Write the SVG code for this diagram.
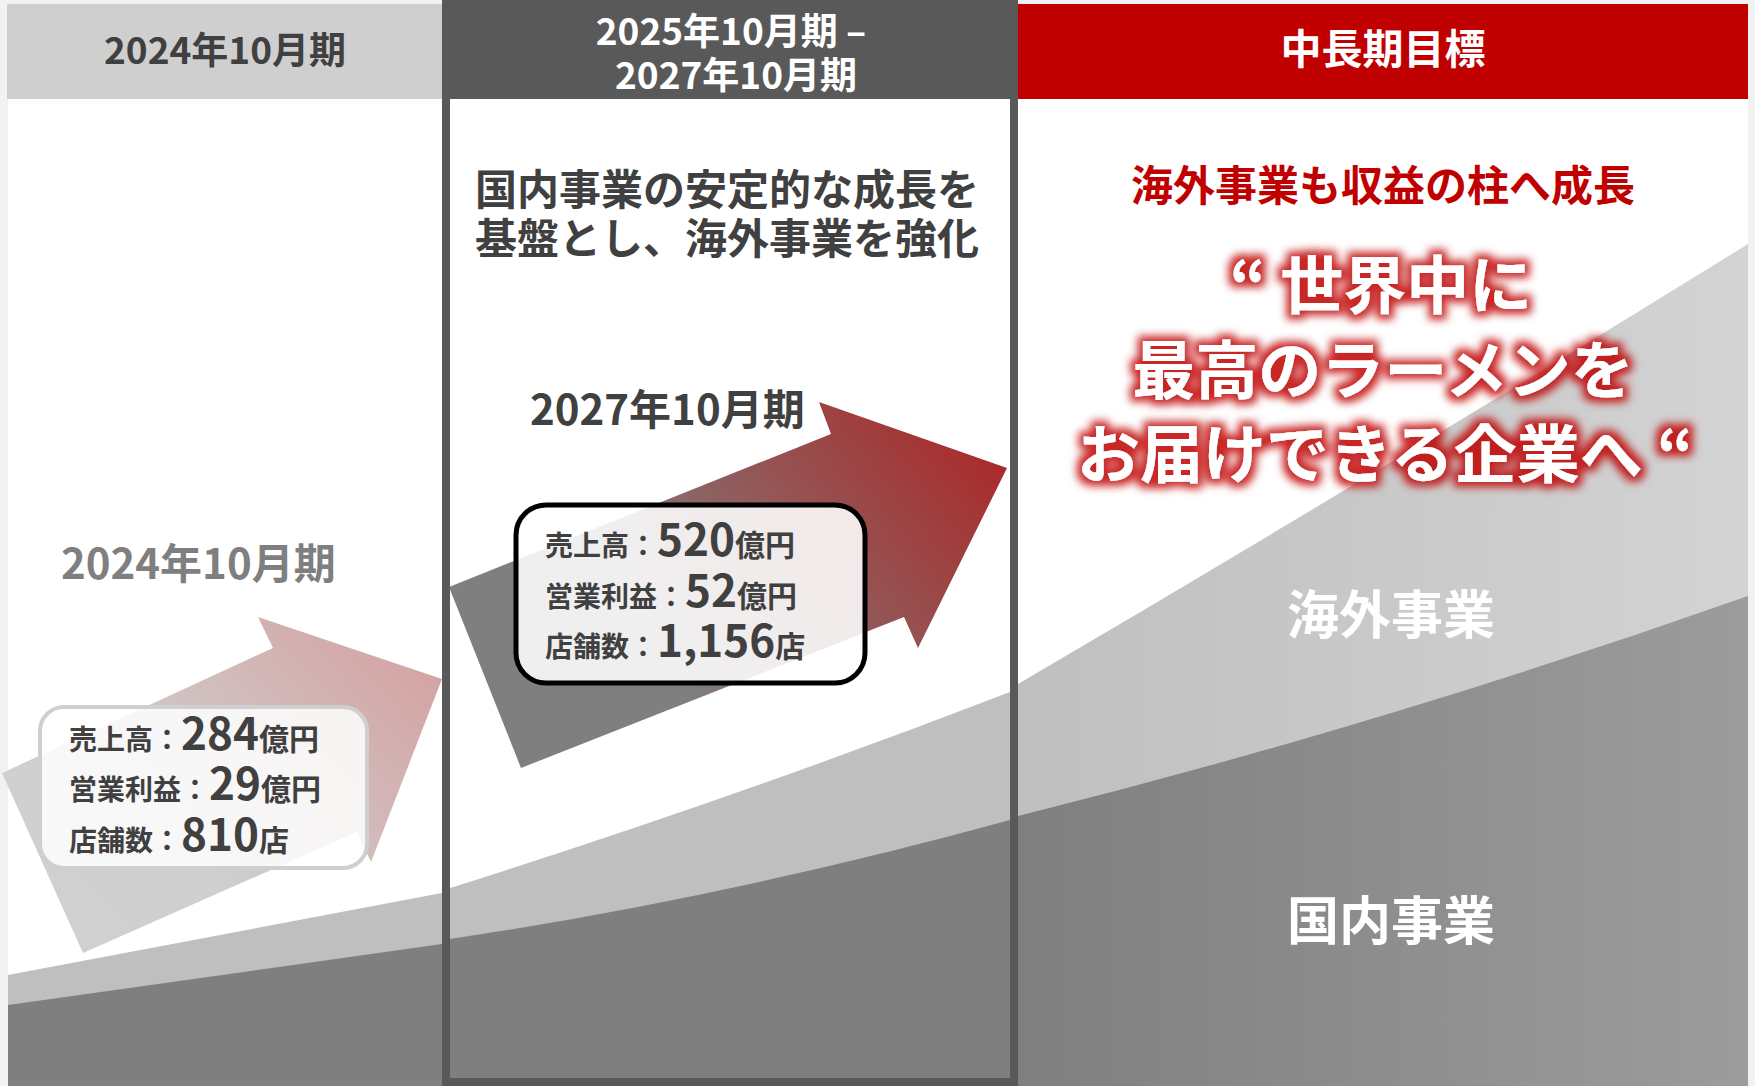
<svg xmlns="http://www.w3.org/2000/svg" width="1755" height="1086" viewBox="0 0 1755 1086">
  <style>
    text { font-family: "Noto Sans CJK JP", "Noto Sans", sans-serif; font-weight: 700; }
    .dark { fill: #404040; }
    .white { fill: #ffffff; }
    .mid { text-anchor: middle; }
    .lbl { font-size: 28px; }
    .num { font-size: 44px; }
    .unit { font-size: 30px; }
  </style>
  <defs>
    <linearGradient id="gArrow1" gradientUnits="userSpaceOnUse" x1="90" y1="950" x2="440" y2="630">
      <stop offset="0" stop-color="#d0d0d0"/>
      <stop offset="0.3" stop-color="#cfcfcf"/>
      <stop offset="1" stop-color="#d59f9f"/>
    </linearGradient>
    <linearGradient id="gArrow2" gradientUnits="userSpaceOnUse" x1="560" y1="760" x2="1000" y2="420">
      <stop offset="0" stop-color="#7f7f7f"/>
      <stop offset="0.25" stop-color="#7f7f7f"/>
      <stop offset="1" stop-color="#ac2626"/>
    </linearGradient>
    <linearGradient id="gLight3" gradientUnits="userSpaceOnUse" x1="1018" y1="0" x2="1748" y2="0">
      <stop offset="0" stop-color="#bfbfbf"/>
      <stop offset="1" stop-color="#d3d3d3"/>
    </linearGradient>
    <linearGradient id="gDark3" gradientUnits="userSpaceOnUse" x1="1018" y1="0" x2="1748" y2="0">
      <stop offset="0" stop-color="#7f7f7f"/>
      <stop offset="1" stop-color="#9c9c9c"/>
    </linearGradient>
    <filter id="glow" x="-15%" y="-40%" width="130%" height="180%">
      <feMorphology in="SourceAlpha" operator="dilate" radius="5" result="d"/>
      <feGaussianBlur in="d" stdDeviation="4.5" result="b"/>
      <feFlood flood-color="#c00000" flood-opacity="0.85"/>
      <feComposite in2="b" operator="in" result="g"/>
      <feMerge><feMergeNode in="g"/><feMergeNode in="SourceGraphic"/></feMerge>
    </filter>
  </defs>

  <!-- background -->
  <rect x="0" y="0" width="1755" height="1086" fill="#f2f2f2"/>
  <rect x="8" y="99" width="434" height="987" fill="#ffffff"/>
  <rect x="446" y="99" width="568" height="987" fill="#ffffff"/>
  <rect x="1018" y="99" width="730" height="987" fill="#ffffff"/>

  <!-- area chart -->
  <g id="areas">
    <path d="M8,975 L442,893 L442,1086 L8,1086 Z" fill="#bfbfbf"/>
    <path d="M8,1005 L442,944 L442,1086 L8,1086 Z" fill="#7f7f7f"/>
    <path d="M450,888 Q730,800 1010,692 L1010,1086 L450,1086 Z" fill="#bfbfbf"/>
    <path d="M450,939 Q730,897 1010,820 L1010,1086 L450,1086 Z" fill="#7f7f7f"/>
    <path d="M1018,684 Q1383,470 1748,244 L1748,1086 L1018,1086 Z" fill="url(#gLight3)"/>
    <path d="M1018,816 Q1383,725 1748,596 L1748,1086 L1018,1086 Z" fill="url(#gDark3)"/>
  </g>

  <!-- growth arrows -->
  <g id="connectors">
    <polygon id="arrow-2024" points="2,773 273,648 258,617 442,679 371,862 357,832 83,953" fill="url(#gArrow1)"/>
    <polygon id="arrow-2027" points="449,587 831,434 819,402 1007,468 918,648 904,617 521,768" fill="url(#gArrow2)"/>
  </g>

  <!-- column 1 -->
  <g id="col-2024">
    <rect x="7" y="4" width="435" height="95" fill="#d0cfd0"/>
    <text x="225" y="64" class="dark mid" font-size="37">2024年10月期</text>
    <text x="61" y="579" fill="#7f7f7f" font-size="42">2024年10月期</text>
  </g>

  <g id="box-2024">
    <rect x="40" y="707" width="327" height="161" rx="24" fill="#ffffff" fill-opacity="0.85" stroke="#d0cfcf" stroke-width="4"/>
    <text x="69" y="750" class="dark"><tspan class="lbl">売上高：</tspan><tspan class="num">284</tspan><tspan class="unit">億円</tspan></text>
    <text x="69" y="800" class="dark"><tspan class="lbl">営業利益：</tspan><tspan class="num">29</tspan><tspan class="unit">億円</tspan></text>
    <text x="69" y="851" class="dark"><tspan class="lbl">店舗数：</tspan><tspan class="num">810</tspan><tspan class="unit">店</tspan></text>
  </g>

  <!-- column 2 -->
  <g id="col-2025-2027">
    <rect x="442" y="0" width="576" height="99" fill="#595959"/>
    <rect x="446" y="4" width="568" height="1078" fill="none" stroke="#595959" stroke-width="8"/>
    <text x="731" y="45" class="white mid" font-size="37">2025年10月期 –</text>
    <text x="736" y="89" class="white mid" font-size="37">2027年10月期</text>
    <text x="727" y="205" class="dark mid" font-size="42">国内事業の安定的な成長を</text>
    <text x="727" y="254" class="dark mid" font-size="42">基盤とし、海外事業を強化</text>
    <text x="530" y="425" class="dark" font-size="42">2027年10月期</text>
  </g>

  <g id="box-2027">
    <rect x="516" y="505" width="349" height="178" rx="30" fill="#ffffff" fill-opacity="0.88" stroke="#000000" stroke-width="5"/>
    <text x="545" y="556" class="dark"><tspan class="lbl">売上高：</tspan><tspan class="num">520</tspan><tspan class="unit">億円</tspan></text>
    <text x="545" y="607" class="dark"><tspan class="lbl">営業利益：</tspan><tspan class="num">52</tspan><tspan class="unit">億円</tspan></text>
    <text x="545" y="657" class="dark"><tspan class="lbl">店舗数：</tspan><tspan class="num">1,156</tspan><tspan class="unit">店</tspan></text>
  </g>

  <!-- column 3 -->
  <g id="col-target">
    <rect x="1018" y="4" width="730" height="95" fill="#c00000"/>
    <text x="1383" y="64" class="white mid" font-size="41">中長期目標</text>
    <text x="1383" y="201" class="mid" fill="#c00000" font-size="42">海外事業も収益の柱へ成長</text>
    <g filter="url(#glow)">
      <text x="1381" y="308" class="white mid" font-size="63">“ 世界中に</text>
      <text x="1383" y="393" class="white mid" font-size="63">最高のラーメンを</text>
      <text x="1385" y="477" class="white mid" font-size="63">お届けできる企業へ “</text>
    </g>
  </g>

  <g id="label-overseas">
    <text x="1391" y="634" class="white mid" font-size="52">海外事業</text>
  </g>
  <g id="label-domestic">
    <text x="1391" y="940" class="white mid" font-size="52" font-weight="500">国内事業</text>
  </g>
</svg>
